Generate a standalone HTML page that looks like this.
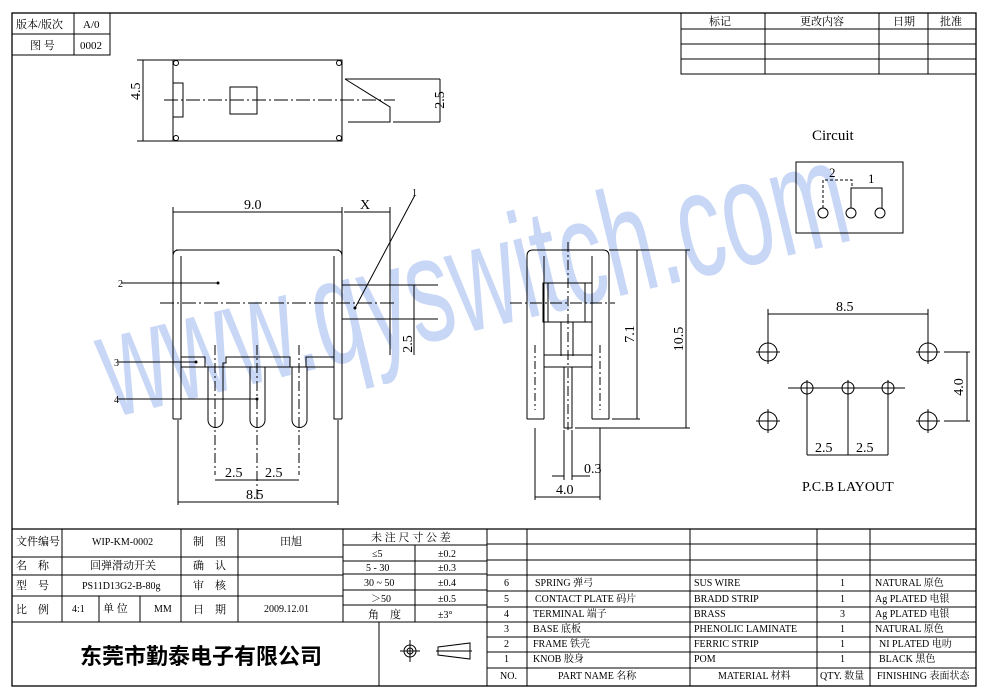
<!DOCTYPE html>
<html><head><meta charset="utf-8"><style>
body{margin:0;background:#fff}
svg{display:block}
text{font-family:"Liberation Serif","Noto Serif CJK SC","Noto Sans CJK SC",serif;fill:#000}
.s{font-size:11px}
</style></head><body>
<svg width="990" height="694" viewBox="0 0 990 694" xmlns="http://www.w3.org/2000/svg">
<rect width="990" height="694" fill="#fff"/>
<!-- watermark -->
<text x="0" y="0" transform="translate(112,418) rotate(-13.5)" font-family="Liberation Sans,sans-serif" font-size="150" style="font-family:'Liberation Sans',sans-serif;fill:#c9d7f7" textLength="765" lengthAdjust="spacingAndGlyphs">www.qyswitch.com</text>

<g stroke="#000" fill="none" stroke-width="1">
<!-- frame -->
<rect x="12" y="13" width="964" height="673" stroke-width="1.3"/>
<!-- top-left table -->
<path d="M12 34H110M110 13V55H12M74 13V55"/>
<!-- revision table -->
<path d="M681 13V74H976M681 29H976M681 44H976M681 59H976M765 13V74M879 13V74M928 13V74"/>

<!-- top view -->
<path d="M173 60H342V141H173Z"/>
<path d="M143 60V141M137 60H173M137 141H173"/>
<rect x="173" y="83" width="10" height="34"/>
<rect x="230" y="87" width="27" height="27"/>
<path d="M164 100H395" stroke-dasharray="14 3 2 3"/>
<path d="M345 79H440M345 79L390 107V122H348M393 122H440M440 79V122"/>
<circle cx="176" cy="63" r="2.5"/><circle cx="339" cy="63" r="2.5"/><circle cx="176" cy="138" r="2.5"/><circle cx="339" cy="138" r="2.5"/>

<!-- front view -->
<path d="M173 212H342M173 207V330M342 207V285M344 212H390M390 207V355"/>
<path d="M176 250H339M173 419V256Q173 250 179 250M342 419V256Q342 250 336 250M173 419H181V256M342 419H334V256"/>
<path d="M342 285H438M342 319H438M390 285V319M414 285V355"/>
<path d="M160 303H395" stroke-dasharray="14 3 2 3"/>
<path d="M181 357H205V367M223 367V363H226V357H290V367M306 367V357H334M181 367H334"/>
<path d="M208 367V420A7.5 7.5 0 0 0 223 420V367M250 367V420A7.5 7.5 0 0 0 265 420V367M292 367V420A7.5 7.5 0 0 0 307 420V367"/>
<path d="M215 345V475M257 345V500M299 345V475" stroke-dasharray="10 3 2 3"/>
<path d="M178 420V505M338 420V505M215 480H299M178 502H338"/>
<path d="M355 308L415 195M122 283H218M118 362H196M118 399H257"/>

<!-- side view -->
<path d="M527 419V256Q527 250 533 250H603Q609 250 609 256V419M544 419V256M592 419V256M527 419H544M592 419H609"/>
<path d="M609 250H690M612 419H640M575 428H690M637 250V419M686 250V428"/>
<rect x="543" y="283" width="49" height="39"/>
<path d="M548 283V322M585 283V322"/>
<path d="M561 322V356M573 322V356M544 355H592M544 367H592M564 367V428H572V367"/>
<path d="M568 242V430" stroke-dasharray="10 3 2 3"/>
<path d="M510 303H615" stroke-dasharray="12 3 2 3"/>
<path d="M535 428V500M600 428V500M535 497H600M564 430V480M572 430V480M552 476H564M572 476H590"/>
<path d="M535 345V410M600 345V410" stroke-dasharray="8 3 2 3"/>

<!-- circuit -->
<rect x="796" y="162" width="107" height="71"/>
<circle cx="823" cy="213" r="5"/><circle cx="851" cy="213" r="5"/><circle cx="880" cy="213" r="5"/>
<path d="M823 208V180H852V188" stroke-dasharray="3 2"/>
<path d="M851 208V188H882V208"/>

<!-- pcb -->
<path d="M768 314H928M768 309V352M928 309V342"/>
<circle cx="768" cy="352" r="9"/><circle cx="928" cy="352" r="9"/><circle cx="768" cy="421" r="9"/><circle cx="928" cy="421" r="9"/>
<path d="M756 352H780M768 340V364M916 352H940M928 340V364M756 421H780M768 409V433M916 421H940M928 409V433"/>
<circle cx="807" cy="388" r="6"/><circle cx="848" cy="388" r="6"/><circle cx="888" cy="388" r="6"/>
<path d="M788 388H905M807 380V455M848 380V455M888 380V455M807 455H888"/>
<path d="M944 352H970M944 421H970M967 352V421"/>

<!-- title block -->
<path d="M12 529H976" stroke-width="1.3"/>
<path d="M12 557H343M12 575H343M12 596H343M12 622H487"/>
<path d="M62 529V622M99 596V622M140 596V622M181 529V622M238 529V622M343 529V622M379 622V686M415 545V622M487 529V686M527 529V686M690 529V686M817 529V686M870 529V686"/>
<path d="M343 545H487M343 561H487M343 574H487M343 590H487M343 605H487"/>
<path d="M487 544H976M487 560H976M487 575H976M487 591H976M487 607H976M487 622H976M487 637H976M487 652H976M487 668H976"/>
<circle cx="410" cy="651" r="6"/><circle cx="410" cy="651" r="3"/>
<path d="M400 651H420M410 640V662M438 647L470 643V659L438 655ZM436 651H472" />
</g>
<circle cx="218" cy="283" r="1.5"/><circle cx="355" cy="308" r="1.5"/><circle cx="196" cy="362" r="1.5"/><circle cx="257" cy="399" r="1.5"/>

<g font-size="12">
<text x="16" y="28" class="s">版本/版次</text><text x="83" y="28" class="s">A/0</text>
<text x="30" y="49" class="s">图 号</text><text x="80" y="49" class="s">0002</text>
<text x="709" y="25" class="s">标记</text><text x="800" y="25" class="s">更改内容</text><text x="893" y="25" class="s">日期</text><text x="940" y="25" class="s">批准</text>
<text x="133" y="107" transform="rotate(-90 133 100)" font-size="14">4.5</text>
<text x="437" y="107" transform="rotate(-90 437 100)" font-size="14" text-anchor="middle">2.5</text>
<text x="244" y="209" font-size="14">9.0</text><text x="360" y="209" font-size="14">X</text>
<text x="412" y="196" font-size="10">1</text><text x="118" y="287" font-size="10">2</text><text x="114" y="366" font-size="10">3</text><text x="114" y="403" font-size="10">4</text>
<text x="412" y="344" transform="rotate(-90 412 344)" font-size="14" text-anchor="middle">2.5</text>
<text x="225" y="477" font-size="14">2.5</text><text x="265" y="477" font-size="14">2.5</text>
<text x="246" y="499" font-size="14">8.5</text>
<text x="634" y="334" transform="rotate(-90 634 334)" font-size="14" text-anchor="middle">7.1</text>
<text x="683" y="339" transform="rotate(-90 683 339)" font-size="14" text-anchor="middle">10.5</text>
<text x="584" y="473" font-size="14">0.3</text><text x="556" y="494" font-size="14">4.0</text>
<text x="812" y="140" font-size="15">Circuit</text>
<text x="829" y="177" font-size="13">2</text><text x="868" y="183" font-size="13">1</text>
<text x="836" y="311" font-size="14">8.5</text>
<text x="963" y="387" transform="rotate(-90 963 387)" font-size="14" text-anchor="middle">4.0</text>
<text x="815" y="452" font-size="14">2.5</text><text x="856" y="452" font-size="14">2.5</text>
<text x="802" y="491" font-size="14">P.C.B LAYOUT</text>
</g>
<g font-size="10">
<text x="16" y="545" class="s">文件编号</text><text x="92" y="545">WIP-KM-0002</text><text x="193" y="545" class="s">制　图</text><text x="280" y="545" class="s">田旭</text>
<text x="16" y="569" class="s">名　称</text><text x="90" y="569" class="s">回弹滑动开关</text><text x="193" y="569" class="s">确　认</text>
<text x="16" y="589" class="s">型　号</text><text x="82" y="589">PS11D13G2-B-80g</text><text x="193" y="589" class="s">审　核</text>
<text x="16" y="613" class="s">比　例</text><text x="72" y="612">4:1</text><text x="103" y="612" class="s">单 位</text><text x="154" y="612">MM</text><text x="193" y="613" class="s">日　期</text><text x="264" y="612">2009.12.01</text>
<text x="371" y="541" class="s">未 注 尺 寸 公 差</text>
<text x="372" y="557">≤5</text><text x="438" y="557">±0.2</text>
<text x="366" y="571">5 - 30</text><text x="438" y="571">±0.3</text>
<text x="364" y="586">30 ~ 50</text><text x="438" y="586">±0.4</text>
<text x="371" y="602">＞50</text><text x="438" y="602">±0.5</text>
<text x="368" y="618" class="s">角　度</text><text x="438" y="618">±3°</text>
<text x="80" y="664" style="font-family:'Noto Sans CJK SC',sans-serif;font-weight:bold" font-size="22">东莞市勤泰电子有限公司</text>
<text x="504" y="586">6</text><text x="535" y="586">SPRING  弹弓</text><text x="694" y="586">SUS WIRE</text><text x="840" y="586">1</text><text x="875" y="586">NATURAL 原色</text>
<text x="504" y="602">5</text><text x="535" y="602">CONTACT PLATE  码片</text><text x="694" y="602">BRADD STRIP</text><text x="840" y="602">1</text><text x="875" y="602">Ag PLATED  电银</text>
<text x="504" y="617">4</text><text x="533" y="617">TERMINAL  端子</text><text x="694" y="617">BRASS</text><text x="840" y="617">3</text><text x="875" y="617">Ag PLATED  电银</text>
<text x="504" y="632">3</text><text x="533" y="632">BASE  底板</text><text x="694" y="632">PHENOLIC LAMINATE</text><text x="840" y="632">1</text><text x="875" y="632">NATURAL 原色</text>
<text x="504" y="647">2</text><text x="533" y="647">FRAME  铁壳</text><text x="694" y="647">FERRIC STRIP</text><text x="840" y="647">1</text><text x="879" y="647">NI PLATED  电叻</text>
<text x="504" y="662">1</text><text x="533" y="662">KNOB  胶身</text><text x="694" y="662">POM</text><text x="840" y="662">1</text><text x="879" y="662">BLACK 黑色</text>
<text x="500" y="679">NO.</text><text x="558" y="679">PART  NAME  名称</text><text x="718" y="679">MATERIAL 材料</text><text x="820" y="679">QTY. 数量</text><text x="877" y="679">FINISHING 表面状态</text>
</g>
</svg>
</body></html>
